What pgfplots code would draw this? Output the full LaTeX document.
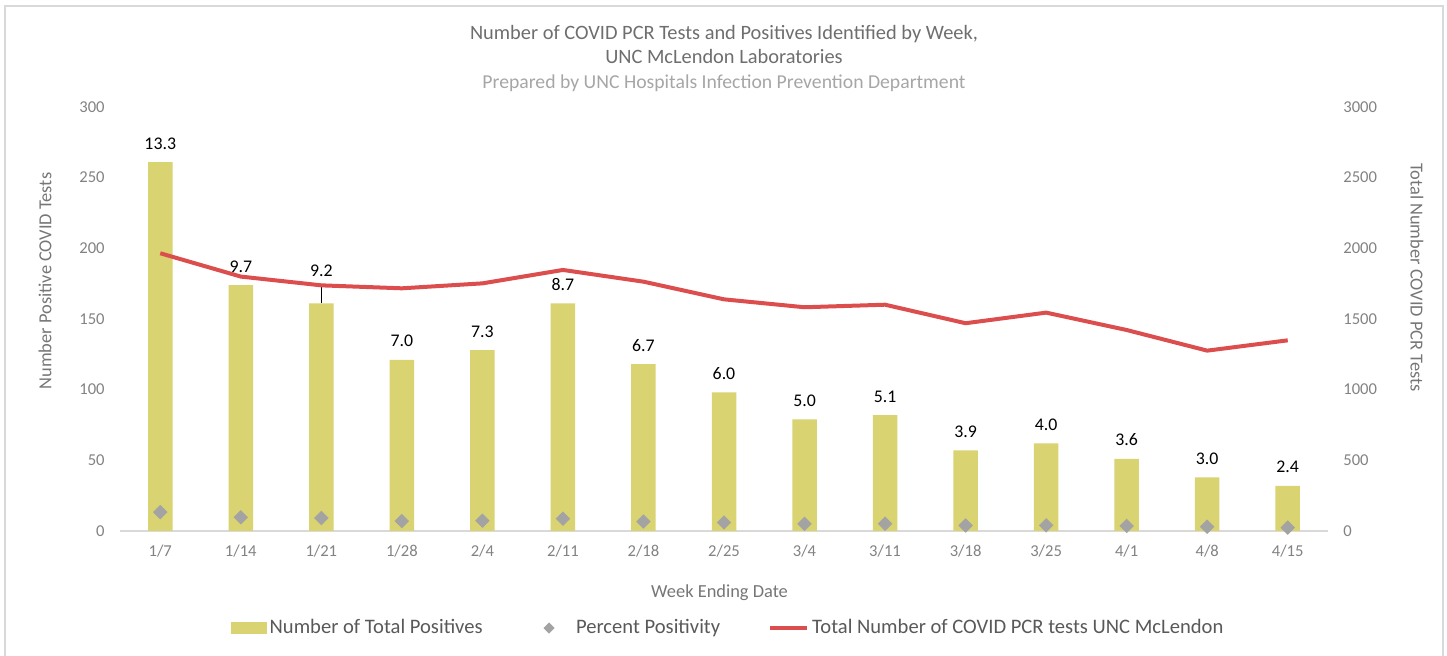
\documentclass[border=0pt]{standalone}
\usepackage{fontspec}
\setmainfont{Carlito}
\usepackage{pgfplots}
\pgfplotsset{compat=1.18}
\usepackage{pgfplotstable}

\definecolor{barcol}{RGB}{217,211,114}
\definecolor{diacol}{RGB}{163,163,163}
\definecolor{linecol}{RGB}{220,78,78}
\definecolor{framecol}{RGB}{217,217,217}
\definecolor{titlecol}{RGB}{110,110,110}
\definecolor{subcol}{RGB}{166,166,166}
\definecolor{tickcol}{RGB}{130,130,130}
\definecolor{labcol}{RGB}{118,118,118}
\definecolor{legcol}{RGB}{89,89,89}

\newcommand\titlefont{\fontsize{10.2}{12}\selectfont}
\newcommand\subfont{\fontsize{9.85}{12}\selectfont}
\newcommand\tickfont{\fontsize{8.3}{10}\selectfont}
\newcommand\datafont{\fontsize{8.9}{10}\selectfont}
\newcommand\labfont{\fontsize{9.2}{11}\selectfont}
\newcommand\legfont{\fontsize{10.3}{12}\selectfont}

% week index, positives, percent positivity, height of its label, total tests
\pgfplotstableread{
x  tot pct  laby  tests
0  261 13.3 261   1965
1  174 9.7  174   1800
2  161 9.2  170.5 1738
3  121 7.0  121   1717
4  128 7.3  128   1752
5  161 8.7  161   1847
6  118 6.7  118   1764
7  98  6.0  98    1639
8  79  5.0  79    1583
9  82  5.1  82    1601
10 57  3.9  57    1470
11 62  4.0  62    1545
12 51  3.6  51    1422
13 38  3.0  38    1276
14 32  2.4  32    1349
}\weekly

\pgfplotsset{
  common/.style={
    at={(60pt,62.5pt)}, anchor=south west,
    scale only axis, width=604pt, height=212pt,
    xmin=-0.5, xmax=14.5, enlargelimits=false,
    tick style={draw=none}, major tick length=0pt,
    y axis line style={draw=none},
    tick label style={font=\tickfont, text=tickcol},
    /pgf/number format/assume math mode=true,
    /pgf/number format/1000 sep={},
  },
}

\begin{document}
\begin{tikzpicture}
\useasboundingbox (0,0) rectangle (723.5pt,328pt);
\draw[framecol, line width=1pt] (2.5pt,-2pt) -- (2.5pt,325pt) -- (721.5pt,325pt) -- (721.5pt,-2pt);

\node[anchor=base, text=titlecol, font=\titlefont] at (362pt,308pt)
  {Number of COVID PCR Tests and Positives Identified by Week,};
\node[anchor=base, text=titlecol, font=\titlefont] at (362pt,296pt)
  {UNC McLendon Laboratories};
\node[anchor=base, text=subcol, font=\subfont] at (362pt,283.5pt)
  {Prepared by UNC Hospitals Infection Prevention Department};

\begin{axis}[
  common,
  ymin=0, ymax=300,
  ytick={0,50,...,300},
  xtick={0,...,14},
  xticklabels={1/7,1/14,1/21,1/28,2/4,2/11,2/18,2/25,3/4,3/11,3/18,3/25,4/1,4/8,4/15},
  axis x line*=bottom, axis y line*=left,
  x axis line style={-, framecol, line width=1pt},
  yticklabel style={anchor=east, inner sep=0pt, xshift=-7.5pt},
  xticklabel style={anchor=base, inner sep=0pt, yshift=-13pt},
  xlabel={Week Ending Date},
  ylabel={Number Positive COVID Tests},
  every axis x label/.style={at={(axis description cs:0.4963,-0.1557)}, anchor=base, font=\labfont, text=labcol},
  every axis y label/.style={at={(axis description cs:-0.0621,0.5896)}, anchor=center, rotate=90, font=\labfont, text=labcol},
  clip=false,
  legend columns=3,
  legend cell align=left,
  legend style={draw=none, fill=none, at={(axis description cs:0.5025,-0.2288)}, anchor=center,
    font=\legfont, text=legcol, inner sep=0pt, nodes={inner sep=0pt},
    /tikz/every odd column/.append style={column sep=1.5pt},
    /tikz/column 2/.append style={column sep=30.5pt},
    /tikz/column 4/.append style={column sep=24pt}},
]
\addplot[ybar, bar width=12.25pt, fill=barcol, draw=none,
  legend image code/.code={\fill[barcol] (0pt,-3pt) rectangle (18pt,3pt);}]
  table[x=x, y=tot] {\weekly};
\addlegendentry{Number of Total Positives}

\addplot[only marks, color=diacol, mark=square*, mark size=2.35pt,
  mark options={rotate=45, fill=diacol, draw=none},
  legend image code/.code={\path[draw=none] (0pt,0pt) rectangle (14.5pt,0pt);
    \fill[diacol] (0pt,0pt) -- (2.5pt,2.5pt) -- (5pt,0pt) -- (2.5pt,-2.5pt) -- cycle;}]
  table[x=x, y=pct] {\weekly};
\addlegendentry{Percent Positivity}

\addlegendimage{legend image code/.code={\draw[linecol, line width=2pt] (0pt,0pt) -- (18.5pt,0pt);}}
\addlegendentry{Total Number of COVID PCR tests UNC McLendon}

% percent labels above the bars
\addplot[draw=none, mark=none, forget plot,
  nodes near coords, point meta=explicit symbolic,
  every node near coord/.append style={anchor=south, inner sep=0pt,
    yshift=6.25pt, font=\datafont, text=black}]
  table[x=x, y=laby, meta=pct] {\weekly};

% leader line of the 1/21 label
\draw[black, line width=0.5pt] (axis cs:2,161) -- (axis cs:2,174);
\end{axis}

\begin{axis}[
  common,
  ymin=0, ymax=3000,
  ytick={0,500,...,3000},
  axis x line=none, axis y line*=right,
  yticklabel style={anchor=west, inner sep=0pt, xshift=7.5pt},
  ylabel={Total Number COVID PCR Tests},
  every axis y label/.style={at={(axis description cs:1.0737,0.598)}, anchor=center, rotate=-90, font=\labfont, text=labcol},
]
\addplot[linecol, line width=2pt, line join=round, mark=none] table[x=x, y=tests] {\weekly};
\end{axis}
\end{tikzpicture}
\end{document}
